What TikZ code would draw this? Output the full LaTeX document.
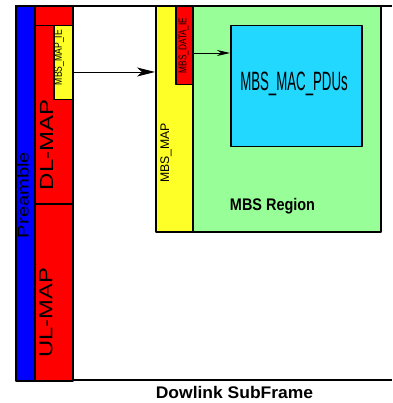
\documentclass[tikz,border=0pt]{standalone}
\usepackage{fontspec}
\setmainfont{Liberation Sans}
\usetikzlibrary{arrows.meta}
\definecolor{mapyellow}{RGB}{255,255,40}
\definecolor{regiongreen}{RGB}{152,255,152}
\definecolor{pducyan}{RGB}{34,216,255}
\tikzset{
  box/.style={draw=black, line width=1.5pt, inner sep=0pt, anchor=north west},
  lbl/.style={rotate=90, inner sep=0pt},
}
% squeezed or widened text: factor, size, text
\newcommand{\sqtext}[3]{\scalebox{#1}[1]{\fontsize{#2}{#2}\selectfont #3}}
\begin{document}
\begin{tikzpicture}[x=1pt, y=-1pt, line join=round, >=Stealth]
	\useasboundingbox (0,0) rectangle (392,403);
	% subframe outline
	\draw[line width=1.6pt] (15,6) -- (392,6);
	\draw[line width=1.6pt] (15,380) -- (392,380);
	% left columns
	\node[box, fill=blue, minimum width=19, minimum height=374] (pre) at (15,6) {};
	\node[box, fill=red, minimum width=38, minimum height=19] (dltop) at (34,6) {};
	\node[box, fill=red, minimum width=38, minimum height=178] (dlmap) at (34,25) {};
	\node[box, fill=red, minimum width=38, minimum height=177] (ulmap) at (34,203) {};
	\node[box, fill=mapyellow, minimum width=19, minimum height=74] (mapie) at (53,25) {};
	% MBS part
	\node[box, fill=mapyellow, minimum width=37, minimum height=225] (mbsmap) at (155,6) {};
	\node[box, fill=regiongreen, minimum width=188, minimum height=225] (region) at (192,6) {};
	\node[box, fill=red, minimum width=17, minimum height=78] (dataie) at (175,6) {};
	\node[box, fill=pducyan, minimum width=131, minimum height=121] (pdus) at (230,25) {};
	% arrows
	\draw[line width=0.9pt, -{Stealth[length=18pt, width=9pt, inset=5pt]}] (mapie.east|-0,72) -- (mbsmap.west|-0,72);
	\draw[line width=0.9pt, -{Stealth[length=13pt, width=6pt, inset=4pt]}] (dataie.east|-0,53) -- (pdus.west|-0,53);
	% labels
	\node[lbl] (tpre) at (23,195) {\sqtext{1.3}{15.5}{Preamble}};
	\node[lbl] (tdl) at (46.5,145) {\sqtext{1.26}{19}{DL-MAP}};
	\node[lbl] (tul) at (46,313) {\sqtext{1.25}{19}{UL-MAP}};
	\node[lbl] (tie) at (59,57.5) {\sqtext{0.77}{11.2}{MBS\_MAP\_IE}};
	\node[lbl] (tmap) at (166,153) {\sqtext{0.98}{12.5}{MBS\_MAP}};
	\node[lbl] (tdata) at (183.5,45.5) {\sqtext{0.75}{11}{MBS\_DATA\_IE}};
	\node[inner sep=0pt, anchor=base] (tpdu) at (294,91) {\sqtext{0.5}{26.5}{MBS\_MAC\_PDUs}};
	\node[inner sep=0pt] (treg) at (272.5,206) {\sqtext{0.86}{16.8}{\bfseries MBS Region}};
	\node[inner sep=0pt] (tsub) at (234.5,392) {\sqtext{1.04}{16.8}{\bfseries Dowlink SubFrame}};
\end{tikzpicture}
\end{document}
